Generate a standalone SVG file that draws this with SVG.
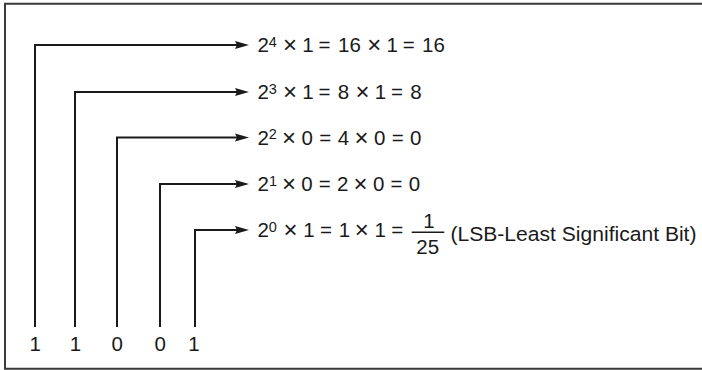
<svg xmlns="http://www.w3.org/2000/svg" width="702" height="370" viewBox="0 0 702 370">
  <style>
    .t { font-family: "Liberation Sans", Arial, sans-serif; font-size: 20.5px; fill: #1a1a1a; text-anchor: middle; }
    .x { font-family: "Liberation Sans", Arial, sans-serif; font-size: 24px; fill: #1a1a1a; text-anchor: middle; }
    .sup { font-family: "Liberation Sans", Arial, sans-serif; font-size: 14.5px; fill: #1a1a1a; text-anchor: middle; }
    .lbl { font-family: "Liberation Sans", Arial, sans-serif; font-size: 20.5px; fill: #1a1a1a; }
    .conn { fill: none; stroke: #1a1a1a; stroke-width: 2; stroke-linejoin: miter; marker-end: url(#arrow); }
    .frame { fill: none; stroke: #3a3a3a; stroke-width: 2; }
    .bar { stroke: #1a1a1a; stroke-width: 1.5; }
  </style>
  <defs>
    <marker id="arrow" markerUnits="userSpaceOnUse" markerWidth="16" markerHeight="10" refX="2" refY="4" orient="auto" overflow="visible">
      <path d="M0,0 L14,4 L0,8 L2,4 z" fill="#1a1a1a"/>
    </marker>
  </defs>
  <rect width="702" height="370" fill="#ffffff"/>
  <path class="frame" d="M702,3.7 H5 V368.8 H702"/>

  <g id="connectors">
    <path class="conn" d="M35,327 V45 H237"/>
    <path class="conn" d="M75,327 V92 H237"/>
    <path class="conn" d="M117,327 V137.5 H237"/>
    <path class="conn" d="M160,327 V184 H237"/>
    <path class="conn" d="M195,327 V230 H237"/>
  </g>

  <g id="bits">
    <g id="bit4"><text class="t" x="35.2" y="351">1</text></g>
    <g id="bit3"><text class="t" x="75.4" y="351">1</text></g>
    <g id="bit2"><text class="t" x="117.2" y="351">0</text></g>
    <g id="bit1"><text class="t" x="160.3" y="351">0</text></g>
    <g id="bit0"><text class="t" x="194" y="351">1</text></g>
  </g>

  <g id="row1">
    <text class="t" x="263.3" y="52">2</text>
    <text class="sup" x="272.7" y="46.5">4</text>
    <text class="x" x="290" y="53.3">×</text>
    <text class="t" x="307.9" y="52">1</text>
    <text class="t" x="324.5" y="52">=</text>
    <text class="t" x="349.4" y="52">16</text>
    <text class="x" x="374.2" y="53.3">×</text>
    <text class="t" x="392.1" y="52">1</text>
    <text class="t" x="408.7" y="52">=</text>
    <text class="t" x="433.5" y="52">16</text>
  </g>

  <g id="row2">
    <text class="t" x="263.3" y="99">2</text>
    <text class="sup" x="272.7" y="93.5">3</text>
    <text class="x" x="290" y="100.3">×</text>
    <text class="t" x="307.9" y="99">1</text>
    <text class="t" x="324.5" y="99">=</text>
    <text class="t" x="343.5" y="99">8</text>
    <text class="x" x="362.4" y="100.3">×</text>
    <text class="t" x="380.4" y="99">1</text>
    <text class="t" x="397" y="99">=</text>
    <text class="t" x="416" y="99">8</text>
  </g>

  <g id="row3">
    <text class="t" x="263.3" y="144.5">2</text>
    <text class="sup" x="272.7" y="139">2</text>
    <text class="x" x="289.1" y="145.8">×</text>
    <text class="t" x="307.2" y="144.5">0</text>
    <text class="t" x="325.3" y="144.5">=</text>
    <text class="t" x="343.4" y="144.5">4</text>
    <text class="x" x="361.5" y="145.8">×</text>
    <text class="t" x="379.6" y="144.5">0</text>
    <text class="t" x="397.7" y="144.5">=</text>
    <text class="t" x="415.7" y="144.5">0</text>
  </g>

  <g id="row4">
    <text class="t" x="263.3" y="191">2</text>
    <text class="sup" x="273" y="185.5">1</text>
    <text class="x" x="288.9" y="192.3">×</text>
    <text class="t" x="306.9" y="191">0</text>
    <text class="t" x="324.8" y="191">=</text>
    <text class="t" x="342.7" y="191">2</text>
    <text class="x" x="360.6" y="192.3">×</text>
    <text class="t" x="378.6" y="191">0</text>
    <text class="t" x="396.5" y="191">=</text>
    <text class="t" x="414.5" y="191">0</text>
  </g>

  <g id="row5">
    <text class="t" x="263.3" y="237">2</text>
    <text class="sup" x="272.7" y="231.5">0</text>
    <text class="x" x="290.5" y="238.3">×</text>
    <text class="t" x="308.9" y="237">1</text>
    <text class="t" x="326" y="237">=</text>
    <text class="t" x="344.5" y="237">1</text>
    <text class="x" x="361.7" y="238.3">×</text>
    <text class="t" x="380.1" y="237">1</text>
    <text class="t" x="397.3" y="237">=</text>
    <text class="t" x="429" y="228">1</text>
    <line class="bar" x1="411.7" y1="232.3" x2="444.3" y2="232.3"/>
    <text class="t" x="427.7" y="254">25</text>
    <text class="lbl" x="450.5" y="240.5" textLength="246" lengthAdjust="spacingAndGlyphs">(LSB-Least Significant Bit)</text>
  </g>
</svg>
